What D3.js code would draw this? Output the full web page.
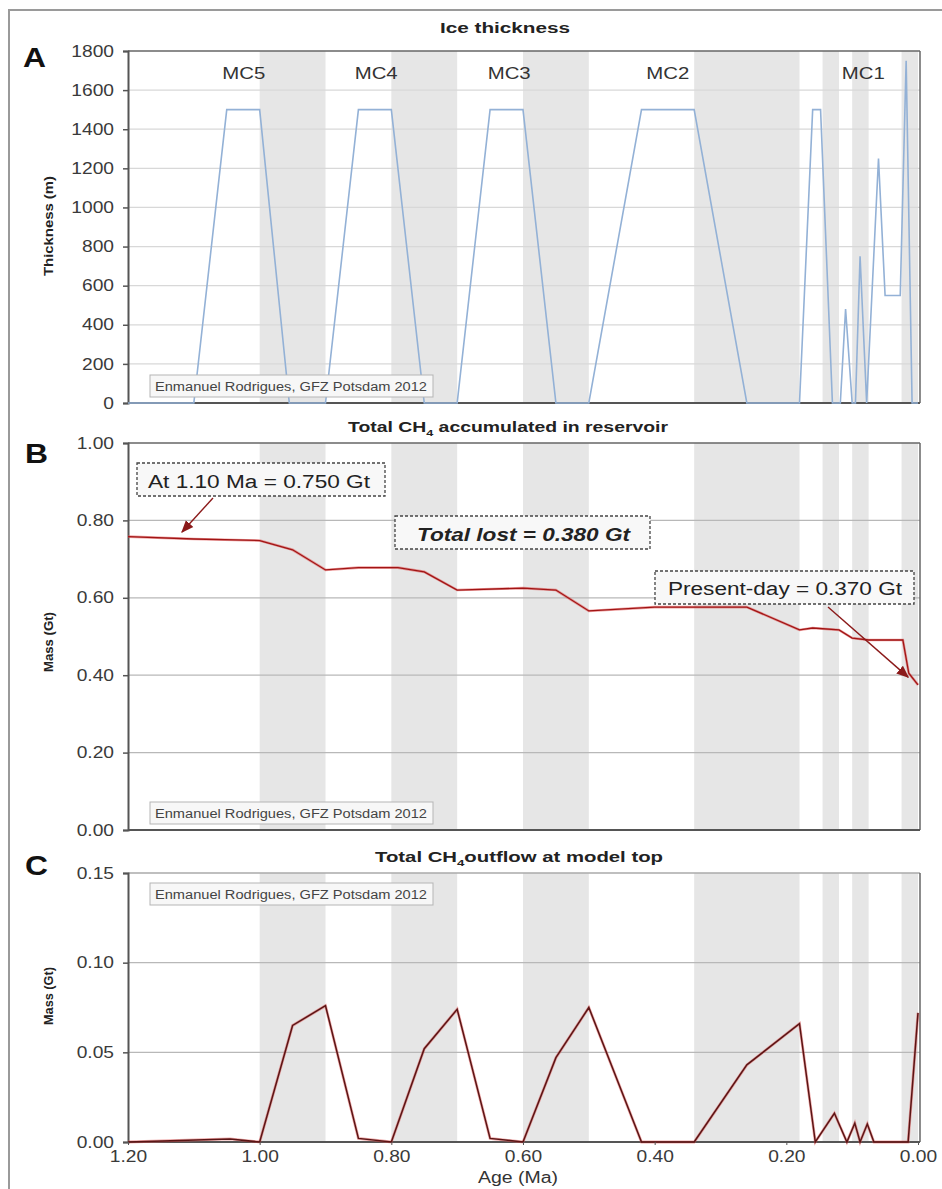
<!DOCTYPE html>
<html><head><meta charset="utf-8">
<script src="https://cdn.jsdelivr.net/npm/d3@7"></script>
<style>body{margin:0;background:#fff} text{font-family:"Liberation Sans",Arial,sans-serif}</style>
</head><body>
<svg id="chart" width="942" height="1189"></svg>
<script>
// ---------- data ----------
const ageTicks = [1.2, 1.0, 0.8, 0.6, 0.4, 0.2, 0.0];
const thicknessTicks = [0, 200, 400, 600, 800, 1000, 1200, 1400, 1600, 1800];
const massTicks = [0, 0.2, 0.4, 0.6, 0.8, 1.0];
const outflowTicks = [0, 0.05, 0.10, 0.15];

const bandStart = [1.00, 0.80, 0.60, 0.34, 0.145, 0.10, 0.025];
const bandEnd   = [0.90, 0.70, 0.50, 0.18, 0.12, 0.075, 0.0];

const cycleLabels = ["MC5", "MC4", "MC3", "MC2", "MC1"];
const cycleLabelAge = [1.024, 0.823, 0.621, 0.38, 0.083];

const iceAge = [1.20, 1.10, 1.05, 1.00, 0.955, 0.90, 0.85, 0.80, 0.75, 0.70, 0.65, 0.60, 0.55, 0.50, 0.42, 0.34, 0.26, 0.18, 0.16, 0.148, 0.13, 0.118, 0.11, 0.10, 0.095, 0.088, 0.078, 0.06, 0.05, 0.027, 0.018, 0.009, 0.0];
const iceThickness = [0, 0, 1500, 1500, 0, 0, 1500, 1500, 0, 0, 1500, 1500, 0, 0, 1500, 1500, 0, 0, 1500, 1500, 0, 0, 480, 0, 0, 750, 0, 1250, 550, 550, 1750, 0, 0];

const massAge = [1.20, 1.10, 1.00, 0.95, 0.90, 0.85, 0.79, 0.75, 0.70, 0.60, 0.55, 0.50, 0.40, 0.26, 0.18, 0.16, 0.12, 0.10, 0.075, 0.023, 0.014, 0.0];
const massValue = [0.758, 0.752, 0.748, 0.724, 0.672, 0.678, 0.678, 0.667, 0.620, 0.625, 0.620, 0.566, 0.576, 0.576, 0.517, 0.522, 0.517, 0.496, 0.491, 0.491, 0.405, 0.375];

const outAge = [1.20, 1.045, 1.00, 0.95, 0.90, 0.85, 0.80, 0.75, 0.70, 0.65, 0.60, 0.55, 0.50, 0.42, 0.34, 0.26, 0.18, 0.156, 0.127, 0.108, 0.096, 0.088, 0.077, 0.067, 0.015, 0.0];
const outValue = [0, 0.0017, 0, 0.065, 0.076, 0.002, 0, 0.052, 0.074, 0.002, 0, 0.047, 0.075, 0, 0, 0.043, 0.066, 0, 0.016, 0, 0.0105, 0, 0.010, 0, 0, 0.072];

const credit = "Enmanuel Rodrigues, GFZ Potsdam 2012";

// ---------- layout ----------
const svg = d3.select("#chart");
const SX = 1.2;
const x = d3.scaleLinear().domain([1.2, 0]).range([128, 918]);
const X0 = 128, X1 = 920;

// outer frame (top + left only)
svg.append("path").attr("d", "M9,1189 L9,10 L942,10")
  .attr("fill", "none").attr("stroke", "#9a9a9a").attr("stroke-width", 2);

const defs = svg.append("defs");
defs.append("marker").attr("id", "arr").attr("viewBox", "0 0 10 10").attr("refX", 9).attr("refY", 5)
  .attr("markerWidth", 9).attr("markerHeight", 9).attr("orient", "auto-start-reverse")
  .append("path").attr("d", "M0,1 L10,5 L0,9 z").attr("fill", "#8b1a1a");

function txt(x0, y0, str, size, w, opts = {}) {
  const t = svg.append("text").attr("x", x0).attr("y", y0)
    .attr("font-size", size).attr("fill", opts.fill || "#222")
    .attr("font-weight", opts.bold ? "bold" : "normal")
    .attr("font-style", opts.italic ? "italic" : "normal")
    .attr("text-anchor", opts.anchor || "start");
  if (opts.rotate) t.attr("transform", `rotate(-90 ${x0} ${y0})`);
  if (Array.isArray(str)) {
    str.forEach(s => {
      const ts = t.append("tspan").text(s.t);
      if (s.sub) ts.attr("font-size", size * 0.65).attr("dy", 4);
      if (s.up) ts.attr("dy", -4);
    });
  } else t.text(str);
  if (w) t.attr("textLength", w).attr("lengthAdjust", "spacingAndGlyphs");
  return t;
}

function panel(y, ticks, fmt, yTop, gridColor, topColor) {
  const g = svg.append("g");
  bandStart.forEach((b, i) => {
    g.append("rect").attr("x", x(b)).attr("y", yTop).attr("width", x(bandEnd[i]) - x(b))
      .attr("height", y(ticks[0]) - yTop).attr("fill", "#e6e6e6");
  });
  ticks.slice(1, -1).forEach(t => {
    g.append("line").attr("x1", X0).attr("x2", X1).attr("y1", y(t)).attr("y2", y(t))
      .attr("stroke", gridColor).attr("stroke-width", 1.2);
  });
  // top and right border
  g.append("path").attr("d", `M${X0},${yTop} L${X1},${yTop}`)
    .attr("fill", "none").attr("stroke", topColor).attr("stroke-width", 1.5);
  g.append("path").attr("d", `M${X1},${yTop} L${X1},${y(ticks[0])}`)
    .attr("fill", "none").attr("stroke", "#666").attr("stroke-width", 1.5);
  const ax = svg.append("g").attr("transform", `translate(${X0},0)`)
    .call(d3.axisLeft(y).tickValues(ticks).tickFormat(fmt).tickSize(5).tickPadding(9));
  ax.select(".domain").attr("stroke", "#555").attr("stroke-width", 2);
  ax.selectAll(".tick line").attr("stroke", "#555").attr("stroke-width", 1.5);
  ax.selectAll(".tick text").attr("font-size", 16).attr("fill", "#3a3a3a")
    .attr("font-family", "Liberation Sans, Arial, sans-serif")
    .attr("transform", `scale(${SX},1)`).attr("x", -14 / SX);
  svg.append("line").attr("x1", X0).attr("x2", X1).attr("y1", y(ticks[0])).attr("y2", y(ticks[0]))
    .attr("stroke", "#555").attr("stroke-width", 2);
  return g;
}

function creditBox(yb) {
  svg.append("rect").attr("x", 150).attr("y", yb).attr("width", 283).attr("height", 22)
    .attr("fill", "#f7f7f7").attr("stroke", "#b5b5b5").attr("stroke-width", 1);
  txt(155, yb + 16, credit, 12.5, 272, { fill: "#444" });
}

function dashBox(x0, y0, w, h) {
  svg.append("rect").attr("x", x0).attr("y", y0).attr("width", w).attr("height", h)
    .attr("fill", "#f8f8f8").attr("stroke", "#444").attr("stroke-width", 1.3)
    .attr("stroke-dasharray", "3,2");
}

// ---------- Panel A ----------
const yA = d3.scaleLinear().domain([0, 1800]).range([403, 51]);
panel(yA, thicknessTicks, d3.format("d"), 51, "#d8d8d8", "#666");
svg.append("path").datum(iceAge.map((a, i) => [a, iceThickness[i]]))
  .attr("d", d3.line().x(d => x(d[0])).y(d => yA(d[1])))
  .attr("fill", "none").attr("stroke", "#93b1d6").attr("stroke-width", 1.6);
cycleLabels.forEach((l, i) => txt(x(cycleLabelAge[i]), 79, l, 16, 43, { anchor: "middle", fill: "#333" }));
creditBox(375);
txt(440, 33, "Ice thickness", 14, 130, { bold: true });
txt(23, 67, "A", 28, 23, { bold: true, fill: "#111" });
txt(53, 226, "Thickness (m)", 12, 100, { bold: true, rotate: true, anchor: "middle", fill: "#222" });

// ---------- Panel B ----------
const yB = d3.scaleLinear().domain([0, 1]).range([830, 443]);
panel(yB, massTicks, d3.format(".2f"), 443, "#b8b8b8", "#666");
const massLine = d3.line().x(d => x(d[0])).y(d => yB(d[1]));
const massData = massAge.map((a, i) => [a, massValue[i]]);
svg.append("path").datum(massData).attr("d", massLine)
  .attr("fill", "none").attr("stroke", "#e05050").attr("stroke-width", 2.6).attr("opacity", 0.55);
svg.append("path").datum(massData).attr("d", massLine)
  .attr("fill", "none").attr("stroke", "#a01515").attr("stroke-width", 1.3);
creditBox(802);
txt(348, 432, [{ t: "Total CH" }, { t: "4", sub: true }, { t: " accumulated in reservoir", up: true }], 14, 320, { bold: true });
txt(25, 463, "B", 28, 23, { bold: true, fill: "#111" });
txt(53, 642, "Mass (Gt)", 12, 60, { bold: true, rotate: true, anchor: "middle", fill: "#222" });

dashBox(137, 463, 248, 33);
txt(148, 488, "At 1.10 Ma = 0.750 Gt", 18, 222, { fill: "#222" });
svg.append("line").attr("x1", 213).attr("y1", 498).attr("x2", x(1.118)).attr("y2", yB(0.77))
  .attr("stroke", "#8b1a1a").attr("stroke-width", 1.4).attr("marker-end", "url(#arr)");
dashBox(395, 516, 255, 33);
txt(417, 541, "Total lost = 0.380 Gt", 18, 213, { bold: true, italic: true, fill: "#222" });
dashBox(655, 571, 259, 33);
txt(668, 595, "Present-day = 0.370 Gt", 18, 234, { fill: "#222" });
svg.append("line").attr("x1", 828).attr("y1", 607).attr("x2", x(0.015)).attr("y2", yB(0.395))
  .attr("stroke", "#8b1a1a").attr("stroke-width", 1.4).attr("marker-end", "url(#arr)");

// ---------- Panel C ----------
const yC = d3.scaleLinear().domain([0, 0.15]).range([1142, 873]);
panel(yC, outflowTicks, d3.format(".2f"), 873, "#b8b8b8", "#aaa");
const outLine = d3.line().x(d => x(d[0])).y(d => yC(d[1]));
const outData = outAge.map((a, i) => [a, outValue[i]]);
svg.append("path").datum(outData).attr("d", outLine)
  .attr("fill", "none").attr("stroke", "#e05050").attr("stroke-width", 2.8).attr("opacity", 0.5);
svg.append("path").datum(outData).attr("d", outLine)
  .attr("fill", "none").attr("stroke", "#5a1515").attr("stroke-width", 1.5);
const axB = svg.append("g").attr("transform", `translate(0,1142)`)
  .call(d3.axisBottom(x).tickValues(ageTicks).tickFormat(d3.format(".2f")).tickSize(3).tickPadding(6));
axB.select(".domain").remove();
axB.selectAll(".tick line").attr("stroke", "#555");
axB.selectAll(".tick text").attr("font-size", 16).attr("fill", "#3a3a3a")
  .attr("font-family", "Liberation Sans, Arial, sans-serif")
  .attr("transform", `scale(${SX},1)`);
creditBox(883);
txt(375, 862, [{ t: "Total CH" }, { t: "4", sub: true }, { t: "outflow at model top", up: true }], 14, 288, { bold: true });
txt(25, 875, "C", 28, 23, { bold: true, fill: "#111" });
txt(53, 996, "Mass (Gt)", 12, 58, { bold: true, rotate: true, anchor: "middle", fill: "#222" });
txt(518, 1183, "Age (Ma)", 16, 80, { anchor: "middle", fill: "#333" });
</script>
</body></html>
